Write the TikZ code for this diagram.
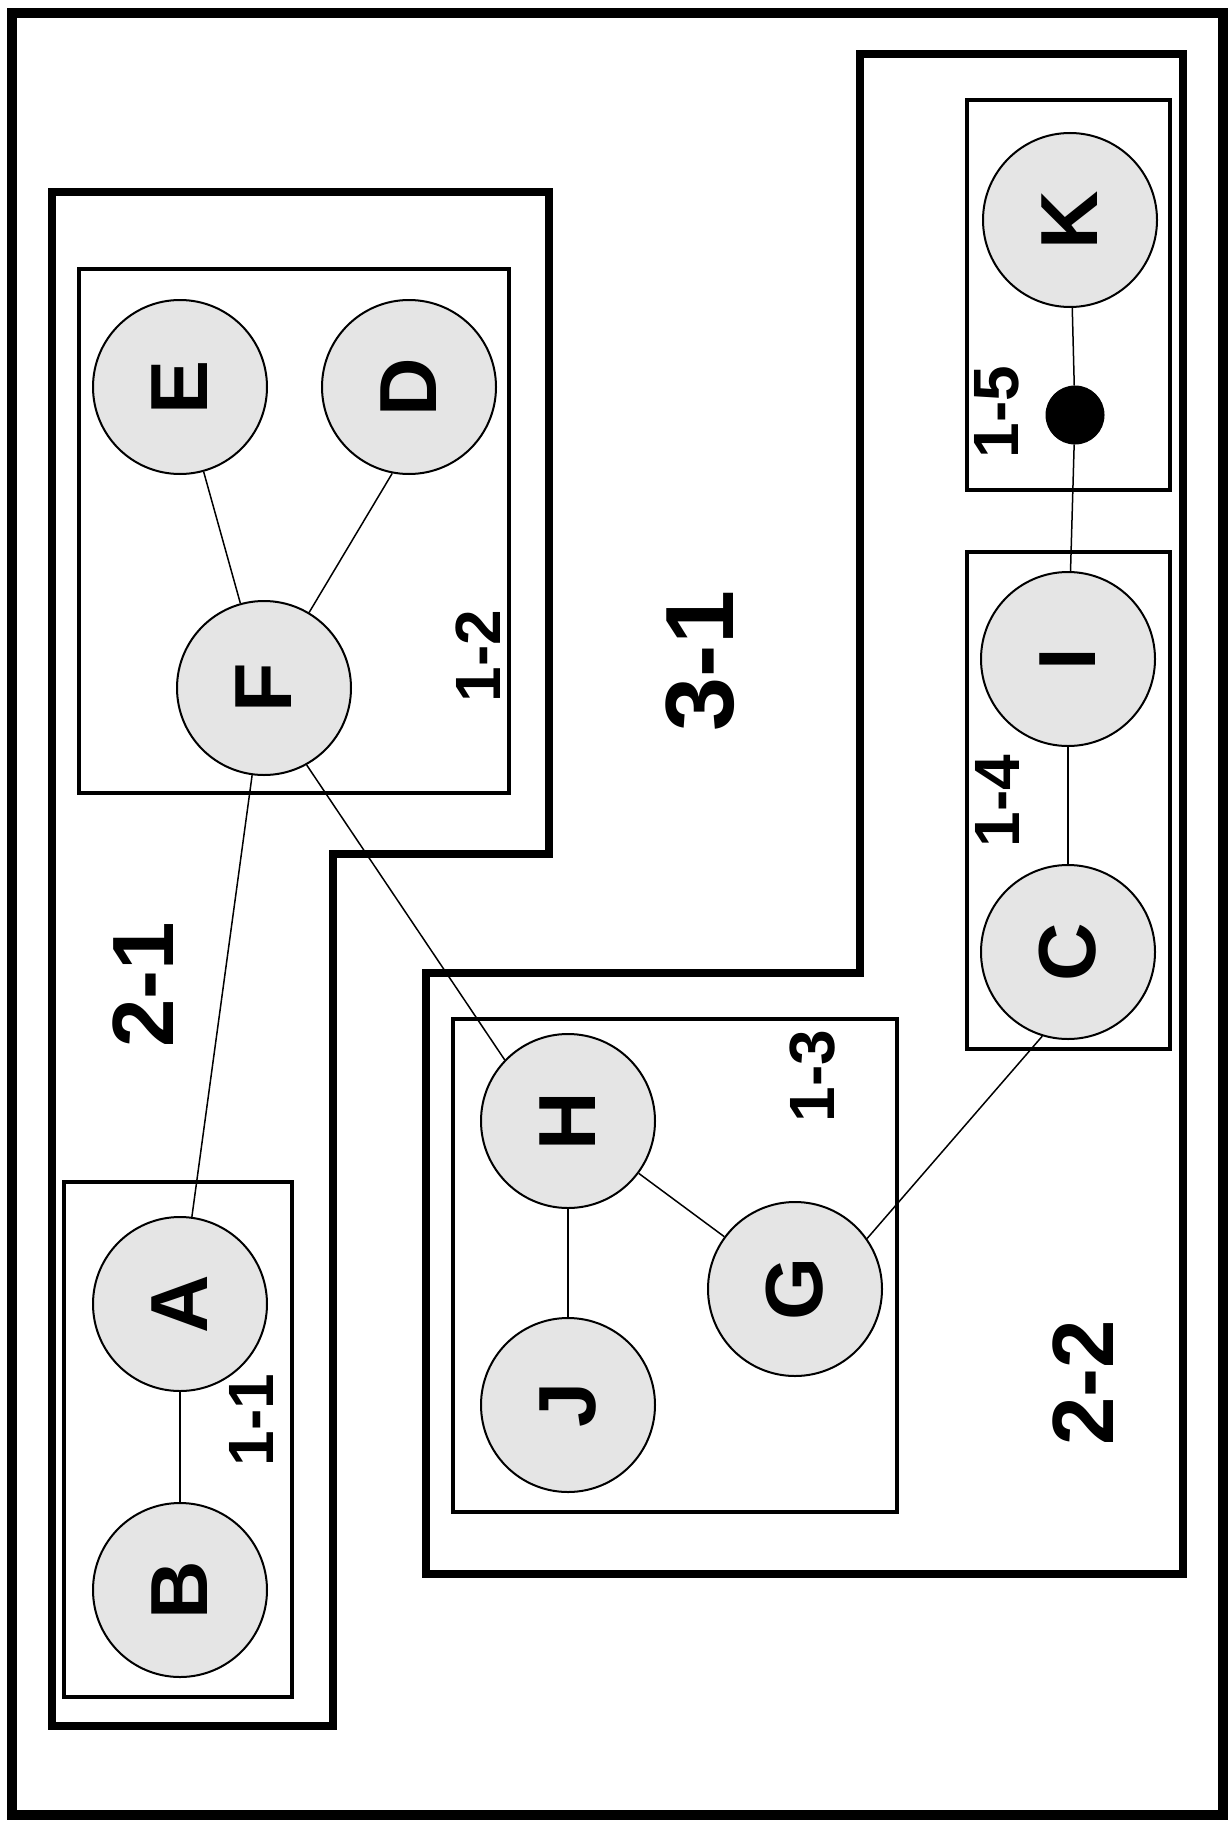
\documentclass[tikz,border=0pt]{standalone}
\usepackage{fontspec}
\setmainfont{Liberation Sans}
\begin{document}
\begin{tikzpicture}[x=1pt,y=-1pt,
  region/.style={draw, line width=8pt, line join=miter},
  cluster/.style={draw, line width=3.5pt},
  vert/.style={circle, draw, line width=2pt, fill=black!10, minimum size=174pt, inner sep=0pt,
    font=\fontsize{81}{81}\selectfont\bfseries, rotate=90},
  dotnode/.style={circle, fill=black, draw, line width=1pt, minimum size=58pt, inner sep=0pt},
  edge/.style={line width=1.5pt},
  smalllabel/.style={font=\fontsize{64}{64}\selectfont\bfseries, rotate=90, inner sep=0pt},
  midlabel/.style={font=\fontsize{87}{87}\selectfont\bfseries, rotate=90, inner sep=0pt},
  biglabel/.style={font=\fontsize{97}{97}\selectfont\bfseries, rotate=90, inner sep=0pt}]
\useasboundingbox (0,0) rectangle (1230,1822);
% outer frame
\draw[line width=10pt] (12,13) rectangle (1223,1815);
% level-2 regions
\draw[region] (52,192) -- (549,192) -- (549,854) -- (333,854) -- (333,1726) -- (52,1726) -- cycle;
\draw[region] (426,973) -- (860,973) -- (860,54) -- (1183,54) -- (1183,1574) -- (426,1574) -- cycle;
% level-1 clusters
\draw[cluster] (79,269) rectangle (509,793);
\draw[cluster] (64,1182) rectangle (292,1697);
\draw[cluster] (453,1019) rectangle (897,1512);
\draw[cluster] (967,552) rectangle (1170,1049);
\draw[cluster] (967,100) rectangle (1170,490);
% vertices
\node[vert] (E) at (180,387) {E};
\node[vert] (D) at (409,387) {D};
\node[vert] (F) at (264,688) {F};
\node[vert] (A) at (180,1304) {A};
\node[vert] (B) at (180,1590) {B};
\node[vert] (H) at (568,1121) {H};
\node[vert] (J) at (568,1405) {J};
\node[vert] (G) at (795,1289) {G};
\node[vert] (C) at (1068,952) {C};
\node[vert] (I) at (1068,659) {I};
\node[vert] (K) at (1070,220) {K};
\node[dotnode] (dot) at (1075,415) {};
% edges
\draw[edge] (B) -- (A);
\draw[edge] (A) -- (F);
\draw[edge] (F) -- (E);
\draw[edge] (F) -- (D.169);
\draw[edge] (F.209) -- (H.46);
\draw[edge] (H) -- (J);
\draw[edge] (H) -- (G);
\draw[edge] (G.305) -- (C.163);
\draw[edge] (C) -- (I);
\draw[edge] (I) -- (dot);
\draw[edge] (dot) -- (K);
% labels
\node[smalllabel] (l11) at (251,1420) {1-1};
\node[smalllabel] (l12) at (478,656) {1-2};
\node[smalllabel] (l13) at (813,1076) {1-3};
\node[smalllabel] (l14) at (997,801) {1-4};
\node[smalllabel] (l15) at (997,412) {1-5};
\node[midlabel] (l21) at (143,985) {2-1};
\node[midlabel] (l22) at (1083,1383) {2-2};
\node[biglabel] (l31) at (700,661) {3-1};
\end{tikzpicture}
\end{document}
